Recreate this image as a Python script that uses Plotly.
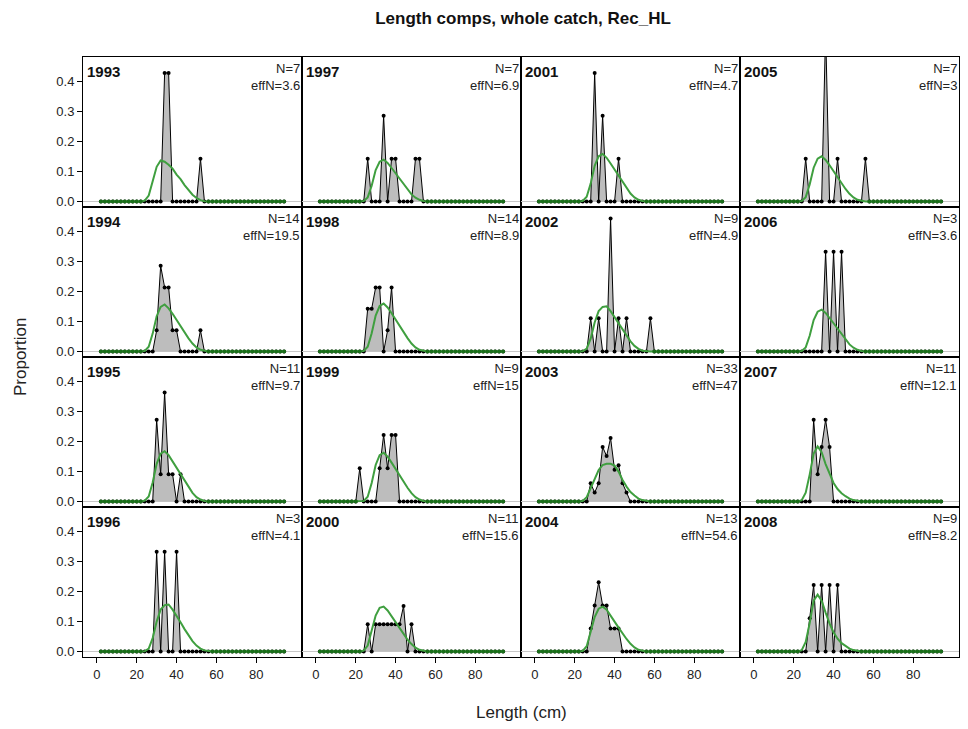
import plotly.graph_objects as go
from plotly.subplots import make_subplots

# -- Length bins (cm) and the bins that carry the expected curve
bins = list(range(2, 96, 2))
exp_bins = list(range(24, 58, 2))

years = [1993, 1994, 1995, 1996, 1997, 1998, 1999, 2000,
         2001, 2002, 2003, 2004, 2005, 2006, 2007, 2008]
n_samp = [7, 14, 11, 3, 7, 14, 9, 11, 7, 9, 33, 13, 7, 3, 11, 9]
eff_n = [3.6, 19.5, 9.7, 4.1, 6.9, 8.9, 15, 15.6, 4.7, 4.9, 47, 54.6, 3, 3.6, 12.1, 8.2]

# -- Observed proportions (only the non-zero bins)
obs_1993 = {34: 0.429, 36: 0.429, 52: 0.143}
obs_1994 = {30: 0.071, 32: 0.286, 34: 0.214, 36: 0.214, 38: 0.071, 40: 0.071, 52: 0.071}
obs_1995 = {30: 0.273, 32: 0.091, 34: 0.364, 36: 0.091, 38: 0.091, 42: 0.091}
obs_1996 = {30: 0.333, 34: 0.333, 40: 0.333}
obs_1997 = {26: 0.143, 34: 0.286, 38: 0.143, 40: 0.143, 50: 0.143, 52: 0.143}
obs_1998 = {26: 0.143, 28: 0.143, 30: 0.214, 32: 0.214, 36: 0.071, 38: 0.214}
obs_1999 = {22: 0.111, 32: 0.111, 34: 0.222, 36: 0.111, 38: 0.222, 40: 0.222}
obs_2000 = {26: 0.091, 30: 0.091, 32: 0.091, 34: 0.091, 36: 0.091, 38: 0.091,
            40: 0.091, 42: 0.091, 44: 0.152, 48: 0.091}
obs_2001 = {30: 0.429, 34: 0.286, 42: 0.143}
obs_2002 = {28: 0.111, 32: 0.111, 38: 0.444, 42: 0.111, 46: 0.111, 58: 0.111}
obs_2003 = {28: 0.061, 30: 0.03, 32: 0.061, 34: 0.182, 36: 0.152, 38: 0.212,
            40: 0.106, 42: 0.121, 44: 0.061, 46: 0.03}
obs_2004 = {28: 0.077, 30: 0.154, 32: 0.231, 34: 0.154, 36: 0.154, 38: 0.077, 40: 0.077, 42: 0.077}
obs_2005 = {26: 0.143, 36: 0.571, 42: 0.143, 56: 0.143}
obs_2006 = {36: 0.333, 40: 0.333, 44: 0.333}
obs_2007 = {30: 0.273, 32: 0.091, 34: 0.182, 36: 0.273, 38: 0.182}
obs_2008 = {28: 0.111, 30: 0.222, 34: 0.222, 38: 0.222, 42: 0.222}

# -- Expected proportions for bins 24..56
exp_1993 = [0.003, 0.02, 0.068, 0.116, 0.137, 0.133, 0.123, 0.11, 0.09, 0.075, 0.055, 0.037, 0.023, 0.012, 0.005, 0.001, 0]
exp_1994 = [0.002, 0.016, 0.06, 0.118, 0.149, 0.157, 0.144, 0.126, 0.105, 0.083, 0.063, 0.044, 0.027, 0.014, 0.006, 0.002, 0]
exp_1995 = [0.003, 0.017, 0.064, 0.126, 0.16, 0.168, 0.155, 0.134, 0.113, 0.089, 0.067, 0.047, 0.029, 0.015, 0.007, 0.002, 0]
exp_1996 = [0.001, 0.01, 0.045, 0.1, 0.14, 0.155, 0.157, 0.14, 0.12, 0.098, 0.075, 0.054, 0.035, 0.02, 0.01, 0.004, 0.001]
exp_1997 = [0.002, 0.014, 0.053, 0.105, 0.133, 0.14, 0.129, 0.112, 0.094, 0.074, 0.056, 0.039, 0.024, 0.013, 0.006, 0.002, 0]
exp_1998 = [0.002, 0.016, 0.061, 0.12, 0.152, 0.16, 0.147, 0.128, 0.107, 0.085, 0.064, 0.045, 0.027, 0.014, 0.006, 0.002, 0]
exp_1999 = [0.002, 0.016, 0.062, 0.122, 0.155, 0.163, 0.15, 0.13, 0.109, 0.086, 0.065, 0.046, 0.028, 0.015, 0.007, 0.002, 0]
exp_2000 = [0.003, 0.02, 0.07, 0.12, 0.146, 0.15, 0.137, 0.118, 0.098, 0.077, 0.058, 0.04, 0.025, 0.013, 0.006, 0.002, 0]
exp_2001 = [0.002, 0.016, 0.06, 0.119, 0.151, 0.159, 0.146, 0.127, 0.107, 0.084, 0.064, 0.045, 0.027, 0.014, 0.006, 0.002, 0]
exp_2002 = [0.001, 0.01, 0.043, 0.097, 0.135, 0.149, 0.151, 0.135, 0.115, 0.094, 0.072, 0.052, 0.034, 0.019, 0.009, 0.003, 0.001]
exp_2003 = [0.002, 0.015, 0.045, 0.075, 0.105, 0.122, 0.126, 0.126, 0.12, 0.1, 0.072, 0.05, 0.032, 0.02, 0.01, 0.005, 0.002]
exp_2004 = [0.002, 0.018, 0.065, 0.115, 0.143, 0.15, 0.14, 0.122, 0.1, 0.08, 0.06, 0.042, 0.026, 0.014, 0.006, 0.002, 0]
exp_2005 = [0.002, 0.015, 0.057, 0.113, 0.143, 0.151, 0.139, 0.121, 0.101, 0.08, 0.06, 0.042, 0.026, 0.014, 0.006, 0.002, 0]
exp_2006 = [0.002, 0.014, 0.053, 0.105, 0.133, 0.14, 0.129, 0.112, 0.094, 0.074, 0.056, 0.039, 0.024, 0.013, 0.006, 0.002, 0]
exp_2007 = [0.005, 0.03, 0.09, 0.16, 0.184, 0.165, 0.125, 0.09, 0.062, 0.042, 0.028, 0.018, 0.01, 0.005, 0.002, 0, 0]
exp_2008 = [0.005, 0.032, 0.095, 0.17, 0.19, 0.17, 0.13, 0.093, 0.064, 0.043, 0.028, 0.018, 0.01, 0.005, 0.002, 0, 0]

obs_all = [obs_1993, obs_1994, obs_1995, obs_1996, obs_1997, obs_1998, obs_1999, obs_2000,
           obs_2001, obs_2002, obs_2003, obs_2004, obs_2005, obs_2006, obs_2007, obs_2008]
exp_all = [exp_1993, exp_1994, exp_1995, exp_1996, exp_1997, exp_1998, exp_1999, exp_2000,
           exp_2001, exp_2002, exp_2003, exp_2004, exp_2005, exp_2006, exp_2007, exp_2008]

FONT = "Liberation Sans, Arial, sans-serif"
GREEN = "#3f9f3f"
DKGREEN = "#1a6f1a"

fig = make_subplots(rows=4, cols=4, horizontal_spacing=0, vertical_spacing=0)

annots = []
for i, yr in enumerate(years):
    row = i % 4 + 1
    col = i // 4 + 1
    n = (row - 1) * 4 + col
    obs = [obs_all[i].get(b, 0) for b in bins]
    emap = dict(zip(exp_bins, exp_all[i]))
    exp = [emap.get(b, 0) for b in bins]

    # observerat: grå polygon med svarta punkter
    fig.add_trace(go.Scatter(
        x=bins, y=obs, mode="lines+markers", fill="tozeroy",
        fillcolor="#bdbdbd", line=dict(color="black", width=1),
        marker=dict(color="black", size=4), showlegend=False,
        hoverinfo="skip"), row=row, col=col)
    # förväntad kurva
    fig.add_trace(go.Scatter(
        x=bins, y=exp, mode="lines", line=dict(color=GREEN, width=2),
        showlegend=False, hoverinfo="skip"), row=row, col=col)
    zx = [b for b, o, e in zip(bins, obs, exp) if o == 0 and e == 0]
    fig.add_trace(go.Scatter(
        x=zx, y=[0] * len(zx), mode="markers",
        marker=dict(color=DKGREEN, size=4), showlegend=False,
        hoverinfo="skip"), row=row, col=col)

    ax = "x" if n == 1 else f"x{n}"
    ay = "y" if n == 1 else f"y{n}"
    annots.append(dict(text=f"<b>{yr}</b>", xref=f"{ax} domain", yref=f"{ay} domain",
                       x=0.01, y=0.975, xanchor="left", yanchor="top", showarrow=False,
                       font=dict(size=15, color="#111", family=FONT)))
    annots.append(dict(text=f"N={n_samp[i]}<br>effN={eff_n[i]:g}", xref=f"{ax} domain",
                       yref=f"{ay} domain", x=1.0, y=0.985, xanchor="right", yanchor="top",
                       align="right", showarrow=False,
                       font=dict(size=13, color="#222", family=FONT)))

    fig.update_xaxes(range=[-7, 103], showline=True, mirror=True, linecolor="black",
                     linewidth=1, showgrid=False, zeroline=False,
                     tickvals=[0, 20, 40, 60, 80],
                     ticks="outside" if row == 4 else "", ticklen=5, tickcolor="black",
                     showticklabels=(row == 4), row=row, col=col)
    fig.update_yaxes(range=[-0.018, 0.482], showline=True, mirror=True, linecolor="black",
                     linewidth=1, showgrid=False, zeroline=True, zerolinecolor="#c8c8c8",
                     zerolinewidth=1, tickvals=[0, 0.1, 0.2, 0.3, 0.4],
                     ticktext=["0.0", "0.1", "0.2", "0.3", "0.4"],
                     ticks="outside" if col == 1 else "", ticklen=5, tickcolor="black",
                     showticklabels=(col == 1), row=row, col=col)

annots.append(dict(text="Proportion", xref="paper", yref="paper", x=-0.0719, y=0.5,
                   textangle=-90, showarrow=False, xanchor="center", yanchor="middle",
                   font=dict(size=17, color="#222", family=FONT)))
annots.append(dict(text="Length (cm)", xref="paper", yref="paper", x=0.5, y=-0.093,
                   showarrow=False, xanchor="center", yanchor="middle",
                   font=dict(size=17, color="#222", family=FONT)))

# sidan har 8 px marginal runt figuren, så den görs mindre för att inte rulla
fig.update_layout(
    width=952, height=713,
    margin=dict(l=75, r=1, t=49, b=64),
    paper_bgcolor="white", plot_bgcolor="white",
    font=dict(family=FONT, size=13, color="#222"),
    title=dict(text="<b>Length comps, whole catch, Rec_HL</b>", x=0.541, xanchor="center",
               y=0.986, yanchor="middle", font=dict(size=17, color="#111", family=FONT)),
    annotations=annots,
)

fig.write_html("out.html")
